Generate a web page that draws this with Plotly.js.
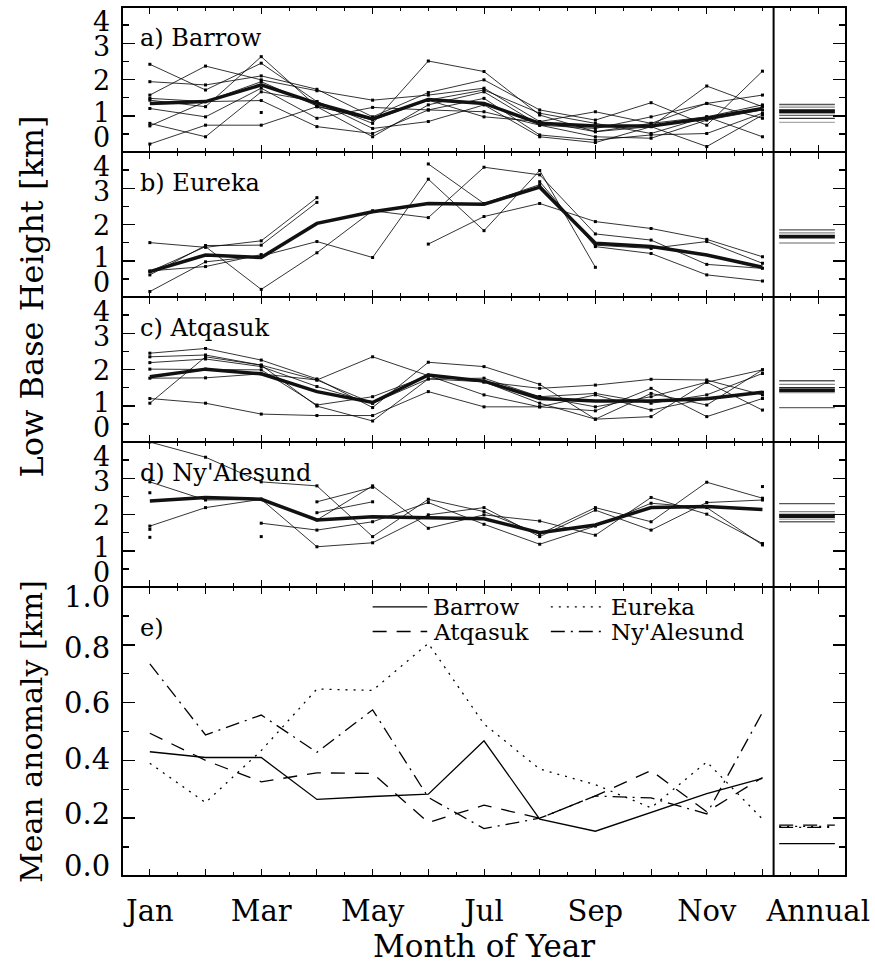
<!DOCTYPE html>
<html>
<head>
<meta charset="utf-8">
<script src="https://cdn.plot.ly/plotly-3.0.1.min.js"></script>
<style>html,body{margin:0;padding:0;background:#fff;}</style>
</head>
<body>
<div id="chart" style="width:875px;height:963px"></div>
<script>
// ---------------- DATA ----------------
const months = [1,2,3,4,5,6,7,8,9,10,11,12];
const tickPositions = [1,2,3,4,5,6,7,8,9,10,11,12,13];
const tickLabels = ['Jan','','Mar','','May','','Jul','','Sep','','Nov','','Annual'];
const stations = ['Barrow','Eureka','Atqasuk',"Ny'Alesund"];
const panelLabels = ['a) Barrow','b) Eureka','c) Atqasuk',"d) Ny'Alesund",'e)'];
const heightTicks = [0,1,2,3,4];
const anomalyTicks = [0,0.2,0.4,0.6,0.8,1.0];

// a) Barrow: individual years and monthly mean [km]
const barrowYears = [
  [2.42,1.71,2.45,1.39,0.79,2.51,2.22,1.02,0.56,0.70,1.82,1.25],
  [1.94,1.85,2.10,1.73,0.97,1.64,1.99,1.16,0.88,1.36,0.74,2.23],
  [1.57,2.37,1.99,1.69,1.43,1.57,1.76,0.84,1.11,0.79,1.34,1.57],
  [1.48,1.39,1.94,1.27,0.88,1.43,1.71,1.07,0.79,0.51,0.97,1.30],
  [1.43,1.25,2.63,1.25,0.42,1.30,1.66,0.74,0.42,0.38,0.88,1.16],
  [1.20,0.97,1.76,0.93,1.23,1.16,1.48,0.47,0.33,0.47,0.51,1.07],
  [0.79,0.42,1.66,1.39,0.65,0.84,1.30,0.42,0.26,0.70,0.15,1.02],
  [0.72,1.39,1.42,0.70,0.51,1.16,1.11,0.74,0.65,0.97,1.34,0.93],
  [0.22,0.74,0.74,1.25,0.93,1.43,0.97,0.84,0.56,0.79,0.97,0.42],
  [null,null,1.09,null,null,null,null,null,null,null,null,null]
];
const barrowMean = [1.34,1.39,1.85,1.34,0.91,1.45,1.34,0.79,0.72,0.72,0.93,1.20];
const barrowAnnual = [1.31,1.24,1.16,1.08,1.01,0.93,0.82];
const barrowAnnualMean = 1.12;

// b) Eureka
const eurekaYears = [
  [1.50,1.37,1.55,2.74,null,null,null,null,null,null,null,null],
  [0.61,1.42,1.43,2.61,null,null,null,null,null,null,null,null],
  [0.70,1.39,0.21,1.22,2.38,2.19,3.58,3.37,1.74,1.57,0.90,0.79],
  [0.15,0.97,1.13,1.53,1.09,3.25,1.83,3.49,0.82,null,null,null],
  [0.72,0.84,1.17,null,null,3.67,2.58,3.10,1.43,1.34,1.53,0.93],
  [null,null,null,null,null,1.46,2.22,2.58,2.08,1.89,1.59,1.11],
  [null,null,null,null,null,null,null,3.18,1.39,1.20,0.61,0.44]
];
const eurekaMean = [0.70,1.16,1.09,2.03,2.35,2.58,2.56,3.03,1.48,1.39,1.16,0.82];
const eurekaAnnual = [1.85,1.77,1.70,1.49];
const eurekaAnnualMean = 1.66;

// c) Atqasuk
const atqasukYears = [
  [2.45,2.58,2.26,1.74,0.95,2.20,2.08,1.59,0.63,0.70,1.65,1.99],
  [2.35,2.40,2.12,1.71,2.35,1.83,1.66,1.48,1.57,1.73,1.71,1.30],
  [2.19,2.29,2.08,1.53,1.07,1.74,1.76,1.25,1.34,1.07,1.30,1.89],
  [2.01,2.01,1.99,1.02,1.25,1.83,1.30,0.97,0.86,1.48,0.70,1.20],
  [1.20,1.07,0.77,0.73,0.73,1.39,0.97,0.97,1.30,0.88,1.20,1.37],
  [1.07,2.35,2.12,0.99,0.58,1.74,1.66,1.07,0.63,1.34,1.02,1.99],
  [1.76,1.77,1.88,1.71,1.07,1.85,1.66,1.25,0.97,1.25,1.65,0.88]
];
const atqasukMean = [1.80,2.01,1.88,1.39,1.09,1.85,1.68,1.20,1.13,1.13,1.19,1.37];
const atqasukAnnual = [1.69,1.59,1.50,1.36,0.95];
const atqasukAnnualMean = 1.43;

// d) Ny'Alesund
const nyalesundYears = [
  [4.00,3.58,2.90,2.79,1.39,2.42,2.08,1.46,2.19,1.80,2.89,2.45],
  [2.90,2.40,2.42,1.85,2.79,1.62,1.99,1.82,1.43,2.47,2.01,1.20],
  [1.68,2.19,2.42,1.11,1.22,1.99,2.19,1.39,2.12,1.57,2.33,2.40],
  [null,null,1.76,1.57,1.80,2.33,1.73,1.18,1.68,2.31,2.19,1.16],
  [null,null,null,2.35,2.75,null,null,null,null,null,null,null],
  [null,null,null,2.05,2.35,null,null,null,null,null,null,null],
  [2.60,null,null,null,null,null,null,null,null,null,null,2.77],
  [1.59,null,1.39,null,null,null,null,null,null,null,null,null],
  [1.37,null,null,null,null,null,null,null,null,null,null,null]
];
const nyalesundMean = [2.37,2.47,2.42,1.85,1.94,1.92,1.88,1.50,1.71,2.19,2.22,2.14];
const nyalesundAnnual = [2.30,2.08,2.00,1.87,1.80];
const nyalesundAnnualMean = 1.95;

// e) Mean anomaly [km]
const anomalyBarrow    = [0.43,0.41,0.41,0.265,0.275,0.283,0.468,0.197,0.155,0.22,0.285,0.338];
const anomalyEureka    = [0.39,0.254,0.434,0.647,0.642,0.805,0.526,0.37,0.316,0.236,0.395,0.197];
const anomalyAtqasuk   = [0.494,0.40,0.326,0.357,0.355,0.185,0.245,0.20,0.277,0.365,0.222,0.341];
const anomalyNyalesund = [0.734,0.488,0.557,0.428,0.575,0.272,0.164,0.20,0.277,0.27,0.215,0.566];
const anomalyAnnual    = [0.112,0.172,0.176,0.168];   // Barrow, Eureka, Atqasuk, Ny'Alesund

// ---------------- DRAWING ----------------
const FONT = 'DejaVu Serif';
const annualSpan = [12.3, 13.3];
const separatorX = 12.2;
const grays = ['#555','#888','#222','#999','#666','#333','#aaa'];
const traces = [];

const panels = [
  {years: barrowYears, mean: barrowMean, annual: barrowAnnual, annualMean: barrowAnnualMean},
  {years: eurekaYears, mean: eurekaMean, annual: eurekaAnnual, annualMean: eurekaAnnualMean},
  {years: atqasukYears, mean: atqasukMean, annual: atqasukAnnual, annualMean: atqasukAnnualMean},
  {years: nyalesundYears, mean: nyalesundMean, annual: nyalesundAnnual, annualMean: nyalesundAnnualMean}
];

panels.forEach((p, i) => {
  const xa = 'x' + (i+1), ya = 'y' + (i+1);
  p.years.forEach(yr => {
    traces.push({x: months, y: yr, xaxis: xa, yaxis: ya, mode: 'lines+markers',
      line: {color: '#000', width: 0.8}, marker: {symbol: 'square', size: 3, color: '#000'},
      connectgaps: false, hoverinfo: 'skip'});
  });
  traces.push({x: months, y: p.mean, xaxis: xa, yaxis: ya, mode: 'lines',
    line: {color: '#111', width: 3.5}, hoverinfo: 'skip'});
  p.annual.forEach((v, k) => {
    traces.push({x: annualSpan, y: [v, v], xaxis: xa, yaxis: ya, mode: 'lines',
      line: {color: grays[k % grays.length], width: 1.3}, hoverinfo: 'skip'});
  });
  traces.push({x: annualSpan, y: [p.annualMean, p.annualMean], xaxis: xa, yaxis: ya, mode: 'lines',
    line: {color: '#111', width: 3.5}, hoverinfo: 'skip'});
});

const anomalySeries = [anomalyBarrow, anomalyEureka, anomalyAtqasuk, anomalyNyalesund];
const dashes = ['solid', '2px,6px', '14px,10px', '14px,6px,2px,6px'];
anomalySeries.forEach((s, k) => {
  traces.push({x: months, y: s, xaxis: 'x5', yaxis: 'y5', mode: 'lines',
    line: {color: '#000', width: 1.3, dash: dashes[k]}, hoverinfo: 'skip'});
  traces.push({x: annualSpan, y: [anomalyAnnual[k], anomalyAnnual[k]], xaxis: 'x5', yaxis: 'y5', mode: 'lines',
    line: {color: '#000', width: 1.3, dash: dashes[k]}, hoverinfo: 'skip'});
});

// layout
const H = 869;
const doms = [[724/H, 1], [579/H, 724/H], [434/H, 579/H], [289/H, 434/H], [0, 289/H]];
const layout = {
  width: 875, height: 963,
  margin: {l: 122, r: 29, t: 7, b: 87},
  paper_bgcolor: '#fff', plot_bgcolor: '#fff',
  showlegend: false,
  font: {family: FONT, color: '#000'},
  annotations: [], shapes: []
};

const LW = 1.2;
for (let i = 0; i < 5; i++) {
  const n = i + 1;
  layout['xaxis' + n] = {
    domain: [0, 1], range: [0.5, 13.5], anchor: 'y' + n,
    tickmode: 'array', tickvals: tickPositions, ticktext: tickLabels,
    showticklabels: i === 4, ticks: 'inside', ticklen: 7, tickwidth: 1, tickcolor: '#000',
    ticklabelstandoff: 9,
    minor: {ticks: 'inside', ticklen: 4, tick0: 0.5, dtick: 0.5, tickcolor: '#000', tickwidth: 1},
    showline: true, linecolor: '#000', linewidth: LW, mirror: 'ticks',
    showgrid: false, zeroline: false,
    tickfont: {family: FONT, size: 29, color: '#000'}
  };
  if (i < 4) {
    layout['yaxis' + n] = {
      domain: doms[i], range: [0, 4], anchor: 'x' + n,
      tickmode: 'array', tickvals: [1, 2, 3], showticklabels: false,
      ticks: 'inside', ticklen: 13, tickwidth: 1.5, tickcolor: '#000',
      minor: {ticks: 'inside', ticklen: 7, tick0: 0.5, dtick: 1, tickcolor: '#000', tickwidth: 1.5},
      showline: true, linecolor: '#000', linewidth: LW, mirror: 'ticks',
      showgrid: false, zeroline: false
    };
    const shifts = [15, 3, -1, -3, -14];
    heightTicks.forEach((v, k) => {
      layout.annotations.push({xref: 'paper', yref: 'y' + n, x: -0.014, y: v, yshift: shifts[k],
        xanchor: 'right', yanchor: 'middle', showarrow: false, text: String(v),
        font: {family: FONT, size: 27, color: '#000'}});
    });
    layout.annotations.push({xref: 'x' + n, yref: 'y' + n, x: 0.78, y: 3.15, xanchor: 'left', yanchor: 'middle',
      showarrow: false, text: panelLabels[i], font: {family: FONT, size: 24, color: '#000'}});
  } else {
    layout['yaxis' + n] = {
      domain: doms[i], range: [0, 1], anchor: 'x' + n,
      tickmode: 'linear', tick0: 0, dtick: 0.2, showticklabels: false,
      ticks: 'inside', ticklen: 13, tickwidth: 1.5, tickcolor: '#000',
      minor: {ticks: 'inside', ticklen: 7, tick0: 0.1, dtick: 0.2, tickcolor: '#000', tickwidth: 1.5},
      showline: true, linecolor: '#000', linewidth: LW, mirror: 'ticks',
      showgrid: false, zeroline: false
    };
    const eShifts = [10, 4, 1, 0, -3, -10];
    anomalyTicks.forEach((v, k) => {
      layout.annotations.push({xref: 'paper', yref: 'y5', x: -0.014, y: v, yshift: eShifts[k],
        xanchor: 'right', yanchor: 'middle', showarrow: false, text: v.toFixed(1),
        font: {family: FONT, size: 29, color: '#000'}});
    });
    layout.annotations.push({xref: 'x5', yref: 'y5', x: 0.78, y: 0.858, xanchor: 'left', yanchor: 'middle',
      showarrow: false, text: panelLabels[4], font: {family: FONT, size: 24, color: '#000'}});
  }
}

// outer frame and separator between months and annual column
layout.shapes.push({type: 'rect', xref: 'paper', yref: 'paper', x0: 0, x1: 1, y0: 0, y1: 1,
  line: {color: '#000', width: 2}});
layout.shapes.push({type: 'line', xref: 'x', yref: 'paper', x0: separatorX, x1: separatorX, y0: 0, y1: 1,
  line: {color: '#000', width: 2}});

// legend in panel e
const legPos = [[5.0, 0.931], [8.2, 0.931], [5.0, 0.846], [8.2, 0.846]];
stations.forEach((s, k) => {
  const [lx, ly] = legPos[k];
  layout.shapes.push({type: 'line', xref: 'x5', yref: 'y5', x0: lx, x1: lx + 0.98, y0: ly, y1: ly,
    line: {color: '#000', width: 1.3, dash: dashes[k]}});
  layout.annotations.push({xref: 'x5', yref: 'y5', x: lx + 1.05, y: ly, xanchor: 'left', yanchor: 'middle',
    showarrow: false, text: s, font: {family: FONT, size: 23, color: '#000'}});
});

// axis titles
layout.annotations.push({xref: 'paper', yref: 'paper', x: -0.125, y: (doms[0][1] + doms[3][0]) / 2,
  xanchor: 'center', yanchor: 'middle', textangle: -90, showarrow: false,
  text: 'Low Base Height [km]', font: {family: FONT, size: 32, color: '#000'}});
layout.annotations.push({xref: 'paper', yref: 'paper', x: -0.125, y: doms[4][1] / 2,
  xanchor: 'center', yanchor: 'middle', textangle: -90, showarrow: false,
  text: 'Mean anomaly [km]', font: {family: FONT, size: 30, color: '#000'}});
layout.annotations.push({xref: 'paper', yref: 'paper', x: 0.5, y: -0.08,
  xanchor: 'center', yanchor: 'middle', showarrow: false,
  text: 'Month of Year', font: {family: FONT, size: 31, color: '#000'}});

Plotly.newPlot('chart', traces, layout, {staticPlot: true, displayModeBar: false});
</script>
</body>
</html>
